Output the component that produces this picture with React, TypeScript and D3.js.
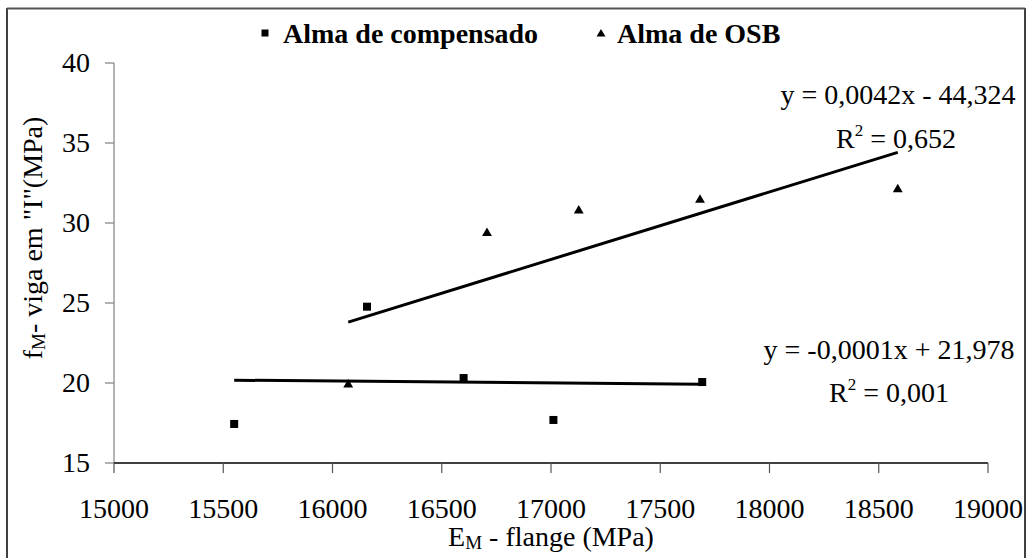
import React from "react";
import * as d3 from "d3";

const compX = [15550, 16158, 16600, 17011, 17692];
const compY = [17.44, 24.77, 20.31, 17.69, 20.06];
const osbX = [16072, 16707, 17127, 17682, 18587];
const osbY = [19.9, 29.36, 30.77, 31.44, 32.1];
const xTicks = [15000, 15500, 16000, 16500, 17000, 17500, 18000, 18500, 19000];
const yTicks = [15, 20, 25, 30, 35, 40];
const legendLabels = ["Alma de compensado", "Alma de OSB"];
const osbEq = "y = 0,0042x - 44,324";
const osbR2 = "0,652";
const compEq = "y = -0,0001x + 21,978";
const compR2 = "0,001";

function fit(xs: number[], ys: number[]) {
  const mx = d3.mean(xs) as number;
  const my = d3.mean(ys) as number;
  let sxy = 0, sxx = 0;
  xs.forEach((x, i) => { sxy += (x - mx) * (ys[i] - my); sxx += (x - mx) * (x - mx); });
  const b = sxy / sxx;
  const a = my - b * mx;
  const [x0, x1] = d3.extent(xs) as [number, number];
  return [[x0, a + b * x0], [x1, a + b * x1]] as [number, number][];
}

const FONT = '"Liberation Serif", "Times New Roman", Times, serif';

export default function App() {
  const x = d3.scaleLinear().domain([15000, 19000]).range([114, 988]);
  const y = d3.scaleLinear().domain([15, 40]).range([463, 63]);
  const line = d3.line<[number, number]>().x(d => x(d[0])).y(d => y(d[1]));
  const tri = d3.symbol().type(d3.symbolTriangle).size(42)();
  const triL = d3.symbol().type(d3.symbolTriangle).size(34)();
  const osbFit = fit(osbX, osbY);
  const compFit = fit(compX, compY);

  const R2 = (cx: number, by: number, val: string) => (
    <text x={cx} y={by} textAnchor="middle" fontSize={28}>
      R<tspan fontSize={17} dy={-12}>2</tspan><tspan dy={12}> = {val}</tspan>
    </text>
  );

  return (
    <div style={{ position: "fixed", left: 0, top: 0 }}>
      <svg width={1031} height={558} style={{ display: "block", background: "#fff", fontFamily: FONT }}>
        <rect x={0} y={0} width={1031} height={558} fill="#fff" />
        <line x1={7} x2={7} y1={8} y2={558} stroke="#000" strokeWidth={1.5} />
        <line x1={1025} x2={1025} y1={8} y2={558} stroke="#000" strokeWidth={1.5} />
        <line x1={7} x2={1025} y1={8.5} y2={8.5} stroke="#555" strokeWidth={2} />

        {/* axes */}
        <line x1={114} x2={114} y1={y(40)} y2={y(15)} stroke="#808080" strokeWidth={1.2} />
        <line x1={114} x2={988} y1={y(15)} y2={y(15)} stroke="#000" strokeWidth={1.3} />
        {yTicks.map(t => (
          <g key={"y" + t}>
            <line x1={105} x2={114} y1={y(t)} y2={y(t)} stroke="#808080" strokeWidth={1.2} />
            <text x={90} y={y(t) + 9} textAnchor="end" fontSize={28}>{t}</text>
          </g>
        ))}
        {xTicks.map(t => (
          <g key={"x" + t}>
            <line x1={x(t)} x2={x(t)} y1={463} y2={473} stroke="#555" strokeWidth={1.2} />
            <text x={x(t)} y={518} textAnchor="middle" fontSize={28}>{t}</text>
          </g>
        ))}

        {/* titles */}
        <text x={551} y={546} textAnchor="middle" fontSize={28}>
          E<tspan fontSize={19} dy={3}>M</tspan><tspan dy={-3}> - flange (MPa)</tspan>
        </text>
        <text transform="translate(42,238) rotate(-90)" textAnchor="middle" fontSize={28}>
          f<tspan fontSize={19} dy={3}>M</tspan><tspan dy={-3}>- viga em "I"(MPa)</tspan>
        </text>

        {/* legend */}
        <rect x={261.5} y={29.5} width={7} height={7} fill="#000" />
        <text x={283} y={43} fontSize={28} fontWeight="bold">{legendLabels[0]}</text>
        <path d={triL as string} transform="translate(601,34)" fill="#000" />
        <text x={617} y={43} fontSize={28} fontWeight="bold">{legendLabels[1]}</text>

        {/* trend lines */}
        <path d={line(osbFit) as string} stroke="#000" strokeWidth={3} fill="none" />
        <path d={line(compFit) as string} stroke="#000" strokeWidth={3} fill="none" />

        {/* points */}
        {compX.map((v, i) => (
          <rect key={"c" + i} x={x(v) - 4} y={y(compY[i]) - 4} width={8} height={8} fill="#000" />
        ))}
        {osbX.map((v, i) => (
          <path key={"o" + i} d={tri as string} transform={`translate(${x(v)},${y(osbY[i])})`} fill="#000" />
        ))}

        {/* equations */}
        <text x={898} y={104} textAnchor="middle" fontSize={28}>{osbEq}</text>
        {R2(896, 148, osbR2)}
        <text x={889} y={359} textAnchor="middle" fontSize={28}>{compEq}</text>
        {R2(889, 402, compR2)}
      </svg>
    </div>
  );
}
